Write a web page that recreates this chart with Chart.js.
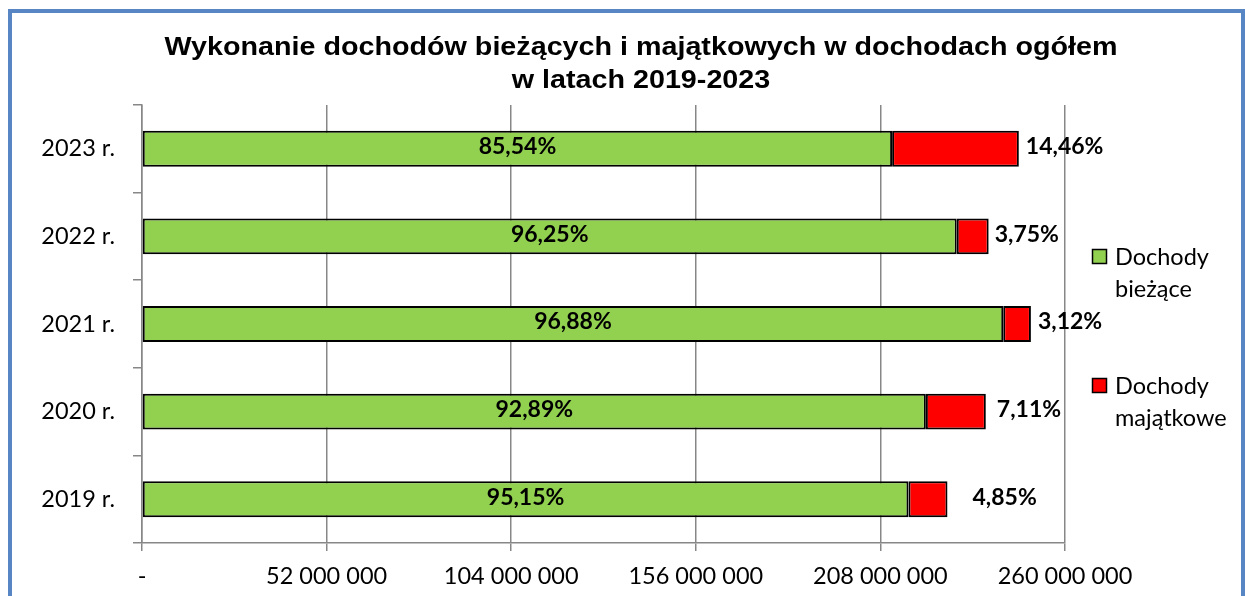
<!DOCTYPE html>
<html>
<head>
<meta charset="utf-8">
<script src="https://cdn.jsdelivr.net/npm/chart.js@4"></script>
<style>
  body { margin: 0; background: #fff; }
</style>
</head>
<body>
<canvas id="myChart" width="1245" height="596"></canvas>
<script>
// categories (bottom to top after reverse)
const categories = ['2019 r.', '2020 r.', '2021 r.', '2022 r.', '2023 r.']
// values in PLN
const dochodyBiezace = [215900000, 220800000, 242600000, 229500000, 211300000]
const dochodyMajatkowe = [11000000, 16900000, 7800000, 9000000, 35700000]
// percent labels
const biezaceLabels = ['95,15%', '92,89%', '96,88%', '96,25%', '85,54%']
const majatkoweLabels = ['4,85%', '7,11%', '3,12%', '3,75%', '14,46%']
// x axis ticks
const xTickValues = [0, 52000000, 104000000, 156000000, 208000000, 260000000]
const xTickLabels = ['-', '52 000 000', '104 000 000', '156 000 000', '208 000 000', '260 000 000']

const seriesNames = [['Dochody', 'bieżące'], ['Dochody', 'majątkowe']]
const titleLines = ['Wykonanie dochodów bieżących i majątkowych w dochodach ogółem', 'w latach 2019-2023']
const gray = '#878787'
const labelFont = 'Lato, "DejaVu Sans", sans-serif'

// border frame, title and legend drawn on the canvas
const decorations = {
    id: 'decorations',
    beforeDraw(chart) {
        const ctx = chart.ctx
        ctx.save()
        ctx.fillStyle = '#fff'
        ctx.fillRect(0, 0, chart.width, chart.height)
        ctx.restore()
    },
    afterDraw(chart) {
        const ctx = chart.ctx
        ctx.save()
        // frame
        ctx.strokeStyle = '#5886c5'
        ctx.lineWidth = 4
        ctx.strokeRect(10, 11, 1233, 600)
        // title (slightly wide, like the original)
        ctx.fillStyle = '#000'
        ctx.font = 'bold 26.5px "Liberation Sans", Arial, sans-serif'
        ctx.textAlign = 'center'
        ctx.textBaseline = 'alphabetic'
        const sx = 953 / ctx.measureText(titleLines[0]).width
        ctx.save()
        ctx.translate(641, 0)
        ctx.scale(sx, 1)
        ctx.fillText(titleLines[0], 0, 55)
        ctx.fillText(titleLines[1], 0, 88)
        ctx.restore()
        // legend
        const items = [
            { color: chart.data.datasets[0].backgroundColor, top: 249, lines: seriesNames[0] },
            { color: chart.data.datasets[1].backgroundColor, top: 378, lines: seriesNames[1] }
        ]
        ctx.textAlign = 'left'
        ctx.font = '23.5px ' + labelFont
        items.forEach(it => {
            ctx.fillStyle = it.color
            ctx.fillRect(1092.5, it.top + 0.5, 14, 14)
            ctx.strokeStyle = '#000'
            ctx.lineWidth = 1.5
            ctx.strokeRect(1092.5, it.top + 0.5, 14, 14)
            ctx.fillStyle = '#000'
            it.lines.forEach((line, i) => {
                ctx.fillText(line, 1115, it.top + 16 + i * 32)
            })
        })
        ctx.restore()
    }
}

// percent labels on bars
const barLabels = {
    id: 'barLabels',
    afterDatasetsDraw(chart, args, opts) {
        const ctx = chart.ctx
        ctx.save()
        ctx.font = 'bold 23px ' + labelFont
        ctx.fillStyle = '#000'
        ctx.textBaseline = 'middle'
        const green = chart.getDatasetMeta(0).data
        green.forEach((bar, i) => {
            const p = bar.getProps(['x', 'y', 'base'], true)
            ctx.textAlign = 'center'
            ctx.fillText(biezaceLabels[i], (p.x + p.base) / 2, p.y - 2)
        })
        const red = chart.getDatasetMeta(1).data
        red.forEach((bar, i) => {
            const p = bar.getProps(['x', 'y', 'base'], true)
            ctx.textAlign = 'left'
            ctx.fillText(majatkoweLabels[i], p.x + opts.offsets[i], p.y - 2)
        })
        ctx.restore()
    }
}

let chartCanvas = document.querySelector('#myChart').getContext('2d')
let dochodyChart = new Chart(chartCanvas, {
    type: 'bar',
    data: {
        labels: categories,
        datasets: [{
            label: 'Dochody bieżące',
            data: dochodyBiezace,
            backgroundColor: '#92d050',
            borderColor: '#000',
            borderWidth: 2,
            borderSkipped: false,
            categoryPercentage: 1,
            barPercentage: 0.41
        }, {
            label: 'Dochody majątkowe',
            data: dochodyMajatkowe,
            backgroundColor: '#ff0000',
            borderColor: '#000',
            borderWidth: 2,
            borderSkipped: false,
            categoryPercentage: 1,
            barPercentage: 0.41
        }]
    },
    options: {
        indexAxis: 'y',
        responsive: false,
        animation: false,
        layout: { padding: { top: 105, right: 180, left: 0, bottom: 0 } },
        plugins: {
            legend: { display: false },
            title: { display: false },
            tooltip: { enabled: false },
            barLabels: { offsets: [25, 11, 7, 6, 7] }
        },
        scales: {
            x: {
                stacked: true,
                min: 0,
                max: 260000000,
                afterBuildTicks: scale => {
                    scale.ticks = xTickValues.map(v => ({ value: v }))
                },
                afterFit: scale => { scale.height = 53 },
                grid: { color: gray, lineWidth: 1.5, tickLength: 8 },
                border: { color: gray, width: 1.5 },
                ticks: {
                    color: '#000',
                    font: { family: labelFont, size: 23.5 },
                    padding: 11,
                    maxRotation: 0,
                    autoSkip: false,
                    callback: (value, index) => xTickLabels[index]
                }
            },
            y: {
                stacked: true,
                reverse: true,
                afterFit: scale => { scale.width = 142 },
                grid: { color: gray, lineWidth: 1.5, tickLength: 9, drawOnChartArea: false, offset: true },
                border: { color: gray, width: 1.5 },
                ticks: {
                    color: '#000',
                    font: { family: labelFont, size: 23.5 },
                    padding: 18
                }
            }
        }
    },
    plugins: [decorations, barLabels]
})
</script>
</body>
</html>
